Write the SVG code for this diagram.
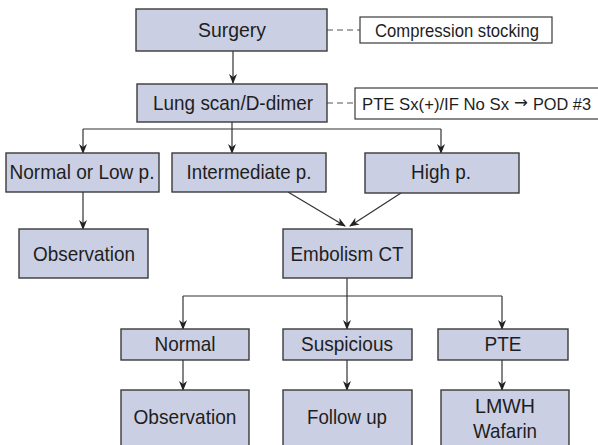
<svg xmlns="http://www.w3.org/2000/svg" width="598" height="445" viewBox="0 0 598 445">
<defs>
<style>
.n{fill:#cbcfe4;stroke:#3a3a3a;stroke-width:1.4}
.w{fill:#ffffff;stroke:#3a3a3a;stroke-width:1.2}
.t{font-family:"Liberation Sans",Arial,sans-serif;font-size:21px;fill:#1e1e1e;text-anchor:middle}
.s{font-family:"Liberation Sans",Arial,sans-serif;font-size:19px;fill:#1e1e1e;text-anchor:middle}
.p{font-family:"Liberation Sans",Arial,sans-serif;font-size:16.5px;fill:#1e1e1e;text-anchor:middle}
.ar{font-family:"DejaVu Sans",sans-serif;font-size:16px;fill:#1e1e1e;text-anchor:middle}
.c{fill:none;stroke:#333;stroke-width:1.2}
.d{fill:none;stroke:#555;stroke-width:1.2;stroke-dasharray:6 4}
</style>
<marker id="ah" markerUnits="userSpaceOnUse" markerWidth="10" markerHeight="12" refX="9" refY="4" orient="auto">
<path d="M0,0 L10,4 L0,8 L3,4 Z" fill="#222"/>
</marker>
</defs>
<rect width="598" height="445" fill="#ffffff"/>
<g id="connectors">
<line class="c" x1="233" y1="51" x2="233" y2="83" marker-end="url(#ah)"/>
<line class="d" x1="327" y1="30" x2="360" y2="30"/>
<line class="d" x1="327" y1="103" x2="355" y2="103"/>
<line class="c" x1="232" y1="122" x2="232" y2="129"/>
<line class="c" x1="83" y1="129" x2="441" y2="129"/>
<line class="c" x1="83" y1="129" x2="83" y2="153" marker-end="url(#ah)"/>
<line class="c" x1="232" y1="129" x2="232" y2="153" marker-end="url(#ah)"/>
<line class="c" x1="441" y1="129" x2="441" y2="153" marker-end="url(#ah)"/>
<line class="c" x1="83" y1="192" x2="83" y2="229" marker-end="url(#ah)"/>
<line class="c" x1="288" y1="192" x2="345" y2="226" marker-end="url(#ah)"/>
<line class="c" x1="401" y1="193" x2="350" y2="226" marker-end="url(#ah)"/>
<line class="c" x1="347" y1="278" x2="347" y2="329" marker-end="url(#ah)"/>
<line class="c" x1="183" y1="296" x2="502" y2="296"/>
<line class="c" x1="183" y1="296" x2="183" y2="329" marker-end="url(#ah)"/>
<line class="c" x1="502" y1="296" x2="502" y2="329" marker-end="url(#ah)"/>
<line class="c" x1="183" y1="360" x2="183" y2="390" marker-end="url(#ah)"/>
<line class="c" x1="347" y1="360" x2="347" y2="390" marker-end="url(#ah)"/>
<line class="c" x1="502" y1="360" x2="502" y2="390" marker-end="url(#ah)"/>
</g>
<g id="surgery"><rect class="n" x="136" y="9" width="191" height="42"/><text class="t" x="232" y="37" textLength="68" lengthAdjust="spacingAndGlyphs">Surgery</text></g>
<g id="compression"><rect class="w" x="360" y="17" width="192" height="26"/><text class="s" x="457" y="37" textLength="164" lengthAdjust="spacingAndGlyphs">Compression stocking</text></g>
<g id="lungscan"><rect class="n" x="137" y="84" width="190" height="38"/><text class="t" x="233" y="110" textLength="160" lengthAdjust="spacingAndGlyphs">Lung scan/D-dimer</text></g>
<g id="ptesx"><rect class="w" x="355" y="88" width="250" height="31"/>
<text class="p" x="435.5" y="110" textLength="147" lengthAdjust="spacingAndGlyphs">PTE Sx(+)/IF No Sx</text>
<text class="ar" x="521" y="108" textLength="14" lengthAdjust="spacingAndGlyphs">→</text>
<text class="p" x="562" y="110" textLength="58" lengthAdjust="spacingAndGlyphs">POD #3</text></g>
<g id="normallow"><rect class="n" x="6" y="153" width="153" height="39"/><text class="t" x="82" y="179" textLength="145" lengthAdjust="spacingAndGlyphs">Normal or Low p.</text></g>
<g id="intermediate"><rect class="n" x="172" y="153" width="154" height="39"/><text class="t" x="249" y="179" textLength="125" lengthAdjust="spacingAndGlyphs">Intermediate p.</text></g>
<g id="high"><rect class="n" x="365" y="153" width="154" height="40"/><text class="t" x="441" y="179" textLength="60" lengthAdjust="spacingAndGlyphs">High p.</text></g>
<g id="observation1"><rect class="n" x="19" y="229" width="129" height="49"/><text class="t" x="84" y="261" textLength="102" lengthAdjust="spacingAndGlyphs">Observation</text></g>
<g id="embolism"><rect class="n" x="283" y="229" width="129" height="49"/><text class="t" x="347" y="261" textLength="113" lengthAdjust="spacingAndGlyphs">Embolism CT</text></g>
<g id="normal"><rect class="n" x="121" y="329" width="128" height="31"/><text class="t" x="185" y="351" textLength="61" lengthAdjust="spacingAndGlyphs">Normal</text></g>
<g id="suspicious"><rect class="n" x="283" y="329" width="129" height="31"/><text class="t" x="347" y="351" textLength="92" lengthAdjust="spacingAndGlyphs">Suspicious</text></g>
<g id="pte"><rect class="n" x="438" y="329" width="130" height="31"/><text class="t" x="503" y="351" textLength="37" lengthAdjust="spacingAndGlyphs">PTE</text></g>
<g id="observation2"><rect class="n" x="121" y="390" width="128" height="60"/><text class="t" x="185" y="424" textLength="103" lengthAdjust="spacingAndGlyphs">Observation</text></g>
<g id="followup"><rect class="n" x="283" y="390" width="129" height="60"/><text class="t" x="347" y="424" textLength="80" lengthAdjust="spacingAndGlyphs">Follow up</text></g>
<g id="lmwh"><rect class="n" x="441" y="390" width="128" height="60"/><text class="t" x="505" y="413" textLength="60" lengthAdjust="spacingAndGlyphs">LMWH</text><text class="t" x="505" y="438" textLength="64" lengthAdjust="spacingAndGlyphs">Wafarin</text></g>
</svg>
